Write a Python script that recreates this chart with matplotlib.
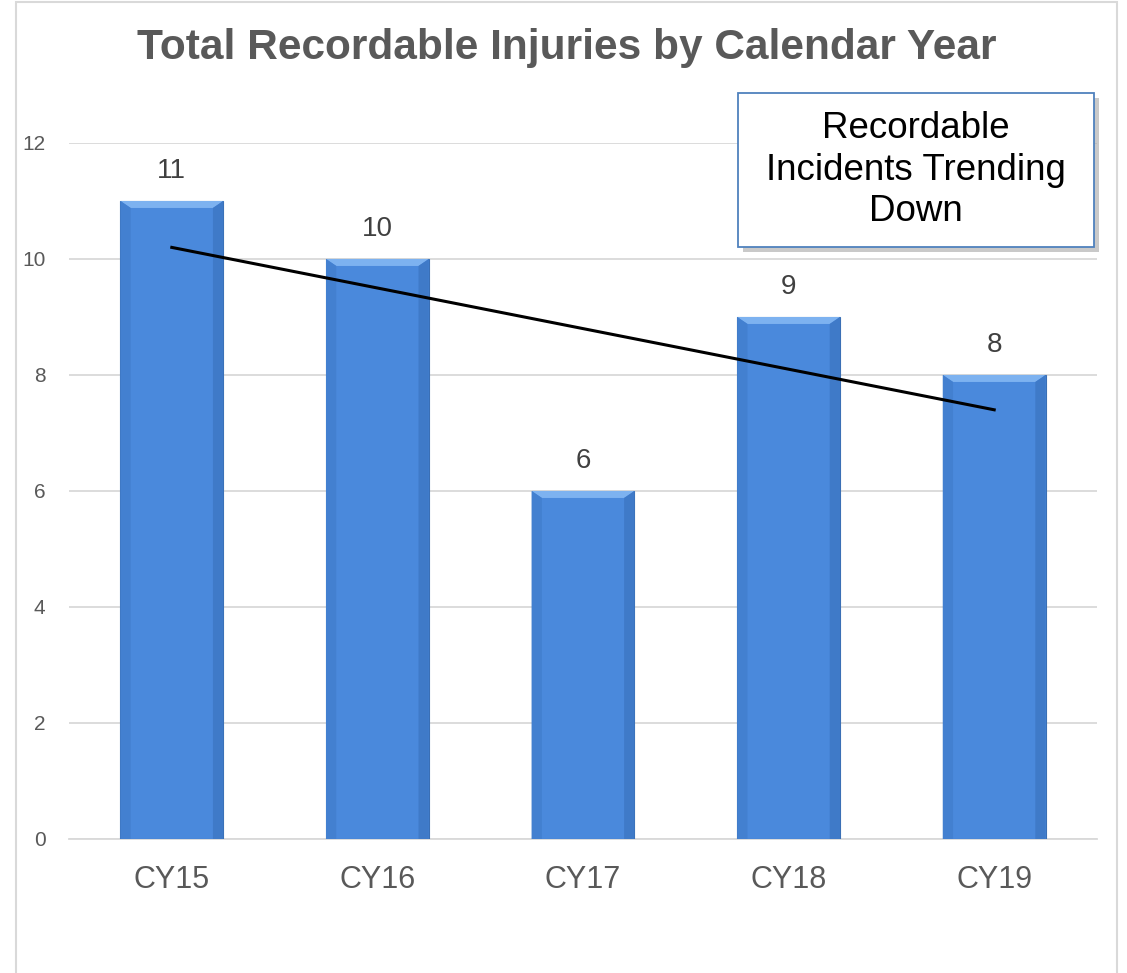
import matplotlib
matplotlib.use("Agg")
import matplotlib.pyplot as plt
import numpy as np
from matplotlib.patches import Rectangle, Polygon

categories = ["CY15", "CY16", "CY17", "CY18", "CY19"]
values = [11, 10, 6, 9, 8]
yticks = [0, 2, 4, 6, 8, 10, 12]
title = "Total Recordable Injuries by Calendar Year"
note = "Recordable\nIncidents Trending\nDown"

plt.rcParams['font.family'] = ['Liberation Sans', 'DejaVu Sans']

W, H = 1127, 973
fig = plt.figure(figsize=(W/100, H/100), dpi=100)
fig.patch.set_facecolor('white')

# chart border
fig.add_artist(Rectangle((16/W, -0.01), (1117-16)/W, (H-2)/H + 0.01, transform=fig.transFigure,
                         fill=False, edgecolor='#D9D9D9', linewidth=1.5))

ax = fig.add_axes([69/W, (H-839)/H, (1097-69)/W, (839-143)/H])
x = np.arange(len(categories))
bars = ax.bar(x, values, width=0.5, color='#4A89DC', edgecolor='#3A6FB5', linewidth=0.8, zorder=3)

# bevel effect
for b in bars:
    x0, w, h = b.get_x(), b.get_width(), b.get_height()
    dx = w * 0.1
    dy = 0.12
    ax.add_patch(Polygon([(x0, h), (x0 + w, h), (x0 + w - dx, h - dy), (x0 + dx, h - dy)],
                         closed=True, facecolor='#7DB2F0', edgecolor='none', zorder=4))
    ax.add_patch(Polygon([(x0, 0), (x0, h), (x0 + dx, h - dy), (x0 + dx, 0)],
                         closed=True, facecolor='#4380D0', edgecolor='none', zorder=4))
    ax.add_patch(Polygon([(x0 + w, 0), (x0 + w, h), (x0 + w - dx, h - dy), (x0 + w - dx, 0)],
                         closed=True, facecolor='#3F7AC8', edgecolor='none', zorder=4))
    ax.text(x0 + w / 2, h + 0.3, f"{int(h)}", ha='center', va='bottom', fontsize=20,
            color='#404040', zorder=5)

# linear trend line
coef = np.polyfit(x, values, 1)
ax.plot(x, np.polyval(coef, x), color='black', linewidth=2.2, zorder=6)

ax.set_xlim(-0.5, len(categories) - 0.5)
ax.set_ylim(0, 12)
ax.set_yticks(yticks)
ax.set_yticklabels([str(t) for t in yticks], fontsize=15, color='#595959')
ax.set_xticks(x)
ax.set_xticklabels(categories, fontsize=22, color='#595959')
ax.tick_params(axis='both', length=0)
ax.tick_params(axis='y', pad=17)
ax.tick_params(axis='x', pad=19)
ax.grid(axis='y', color='#D9D9D9', linewidth=1.3, zorder=0)
for s in ['top', 'right', 'left']:
    ax.spines[s].set_visible(False)
ax.spines['bottom'].set_color('#D9D9D9')
ax.spines['bottom'].set_linewidth(1.3)

fig.text(567/W, 1 - 48/H, title, ha='center', va='center', fontsize=30.5, fontweight='bold',
         color='#595959')

# annotation box with shadow
bx0, by0, bx1, by1 = 738, 93, 1094, 247
fig.add_artist(Rectangle(((bx0 + 5)/W, 1 - (by1 + 5)/H), (bx1 - bx0)/W, (by1 - by0)/H,
                         transform=fig.transFigure, facecolor='#A6A6A6', edgecolor='none',
                         alpha=0.6, zorder=9))
fig.add_artist(Rectangle((bx0/W, 1 - by1/H), (bx1 - bx0)/W, (by1 - by0)/H,
                         transform=fig.transFigure, facecolor='white', edgecolor='#4F81BD',
                         linewidth=1.3, zorder=10))
fig.text((bx0 + bx1)/2/W, 1 - 170/H, note, ha='center', va='center', fontsize=26.5,
         color='black', linespacing=1.24, zorder=11)

fig.savefig('out.png', dpi=100)
